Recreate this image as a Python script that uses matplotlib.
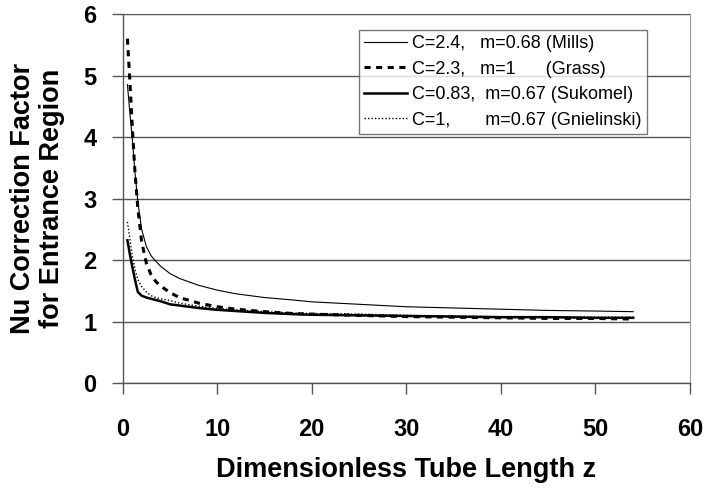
import numpy as np
import matplotlib
matplotlib.use('Agg')
import matplotlib.pyplot as plt

plt.rcParams['font.family'] = ['Liberation Sans', 'DejaVu Sans']

# ── data ─────────────────────────────────────────────────────────────────────
z = [0.5, 0.75, 1.0, 1.3, 1.6, 2.0, 2.5, 3.0, 3.5, 4, 5, 6, 8, 10, 12, 15, 18, 20,
     25, 30, 35, 40, 45, 50, 54]
nu_mills = [4.85, 4.40, 4.00, 3.42, 2.95, 2.50, 2.22, 2.07, 1.98, 1.90, 1.78, 1.70,
            1.59, 1.51, 1.45, 1.39, 1.35, 1.32, 1.28, 1.24, 1.22, 1.20, 1.18, 1.17, 1.16]
nu_grass = [5.60, 4.93, 4.20, 3.42, 2.85, 2.30, 1.95, 1.76, 1.65, 1.58, 1.47, 1.39,
            1.30, 1.24, 1.20, 1.16, 1.13, 1.12, 1.10, 1.08, 1.07, 1.06, 1.05, 1.05, 1.04]
nu_sukomel = [2.32, 2.10, 1.90, 1.68, 1.48, 1.42, 1.39, 1.37, 1.35, 1.33, 1.28, 1.26,
              1.22, 1.19, 1.17, 1.14, 1.12, 1.11, 1.10, 1.09, 1.08, 1.07, 1.07, 1.06, 1.06]
nu_gniel = [2.62, 2.35, 2.08, 1.85, 1.68, 1.57, 1.48, 1.42, 1.39, 1.37, 1.34, 1.30,
            1.25, 1.21, 1.19, 1.16, 1.14, 1.13, 1.12, 1.10, 1.09, 1.08, 1.08, 1.07, 1.07]

labels = ['C=2.4,   m=0.68 (Mills)',
          'C=2.3,   m=1      (Grass)',
          'C=0.83,  m=0.67 (Sukomel)',
          'C=1,       m=0.67 (Gnielinski)']

# ── plot ─────────────────────────────────────────────────────────────────────
fig = plt.figure(figsize=(7.06, 4.93), dpi=100)
ax = fig.add_axes([0.1738, 0.2231, 0.8035, 0.7485])

grid_c = '#555555'
ax.plot(z, nu_mills, color='black', lw=0.8, label=labels[0])
ax.plot(z, nu_grass, color='black', lw=2.2, linestyle=(0, (2.0, 1.8)), label=labels[1])
ax.plot(z, nu_sukomel, color='black', lw=1.8, label=labels[2])
ax.plot(z, nu_gniel, color='black', lw=1.0, linestyle=(0, (1.0, 1.5)), label=labels[3])

ax.set_xlim(0, 60)
ax.set_ylim(0, 6)
ax.set_xticks(np.arange(0, 61, 10))
ax.set_yticks(np.arange(0, 7, 1))
ax.yaxis.grid(True, color=grid_c, lw=1.0)
ax.set_axisbelow(True)

for s in ['left', 'bottom']:
    ax.spines[s].set_color(grid_c)
    ax.spines[s].set_linewidth(1.0)
ax.spines['right'].set_color('#999999')
ax.spines['top'].set_visible(False)

ax.tick_params(axis='both', direction='out', length=8, width=1.0, color=grid_c,
               labelsize=17)
ax.tick_params(axis='x', pad=17)
ax.tick_params(axis='y', pad=11)
for t in ax.get_xticklabels() + ax.get_yticklabels():
    t.set_fontweight('bold')

ax.set_xlabel('Dimensionless Tube Length z', fontsize=19.5, fontweight='bold', labelpad=12)
ax.set_ylabel('Nu Correction Factor\nfor Entrance Region', fontsize=19.5,
              fontweight='bold', labelpad=13, linespacing=1.15)

leg = ax.legend(loc='upper right', bbox_to_anchor=(0.924, 0.957), fontsize=13,
                frameon=True, fancybox=False, handlelength=2.4, handletextpad=0.25,
                borderpad=0.3, labelspacing=0.47, borderaxespad=0)
leg.get_frame().set_edgecolor('#555555')
leg.get_frame().set_linewidth(1.0)

fig.savefig('out.png', dpi=100)
